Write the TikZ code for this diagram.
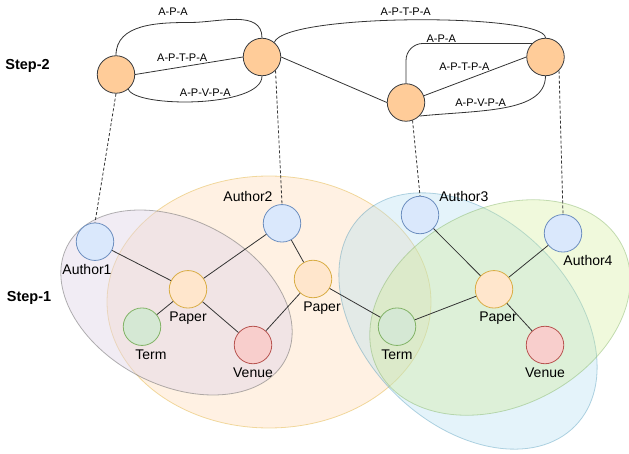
\documentclass[tikz,border=0pt]{standalone}
\usepackage{fontspec}
\setmainfont{Liberation Sans}
\usetikzlibrary{positioning}

\definecolor{mpfill}{HTML}{FFCC99}
\definecolor{mpline}{HTML}{36393D}
\definecolor{authfill}{HTML}{DAE8FC}
\definecolor{authline}{HTML}{6C8EBF}
\definecolor{papfill}{HTML}{FFE6CC}
\definecolor{papline}{HTML}{D9AD45}
\definecolor{termfill}{HTML}{D5E8D4}
\definecolor{termline}{HTML}{82B366}
\definecolor{venfill}{HTML}{F8CECC}
\definecolor{venline}{HTML}{B85450}
\definecolor{edge}{HTML}{333333}
\definecolor{orfill}{HTML}{FFE6CC}
\definecolor{orline}{HTML}{D79B00}
\definecolor{purfill}{HTML}{E1D5E7}
\definecolor{purline}{HTML}{666666}
\definecolor{blufill}{HTML}{B1DDF0}
\definecolor{bluline}{HTML}{10739E}
\definecolor{grefill}{HTML}{CDEB8B}
\definecolor{greline}{HTML}{82B366}

\begin{document}
\begin{tikzpicture}[x=1pt, y=1pt]
	\tikzset{n/.style={circle, draw, line width=0.8pt, minimum size=37.5pt, inner sep=0pt},
	au/.style={n, fill=authfill, draw=authline},
	pa/.style={n, fill=papfill, draw=papline},
	te/.style={n, fill=termfill, draw=termline},
	ve/.style={n, fill=venfill, draw=venline},
	mp/.style={n, fill=mpfill, draw=mpline},
	lbl/.style={inner sep=0pt, font=\fontsize{14}{16}\selectfont, text height=10pt, text depth=3pt},
	el/.style={inner sep=0pt, font=\fontsize{11}{13}\selectfont},
	st/.style={font=\bfseries\fontsize{14.5}{17}\selectfont},
	f/.style={draw=edge, line width=0.8pt},
	dl/.style={f, dash pattern=on 3pt off 2pt},
	grp/.style={line width=0.8pt}};

	\useasboundingbox (0,0) rectangle (629,453);

	\draw[grp, fill=orfill, fill opacity=0.55, draw=orline, draw opacity=0.35] (269,151) ellipse [x radius=162, y radius=126];
	\draw[grp, fill=purfill, fill opacity=0.45, draw=purline, draw opacity=0.5, rotate around={-27.3:(176.5,150.5)}] (176.5,150.5) ellipse [x radius=123, y radius=82.5];
	\draw[grp, fill=blufill, fill opacity=0.35, draw=bluline, draw opacity=0.3, rotate around={-44.4:(468,132)}] (468,132) ellipse [x radius=150, y radius=103];
	\draw[grp, fill=grefill, fill opacity=0.3, draw=greline, draw opacity=0.45, rotate around={26.7:(500,145.5)}] (500,145.5) ellipse [x radius=137, y radius=99];

	\node[st] (st2) at (27.5,387) {Step-2};
	\node[st] (st1) at (29,155) {Step-1};

	\node[mp] (s1) at (116,378.5) {};
	\node[mp] (s2) at (262,396) {};
	\node[mp] (s3) at (406,350.5) {};
	\node[mp] (s4) at (545.5,396) {};

	\node[au] (a1) at (95,211.3) {};
	\node[au] (a2) at (282,229.7) {};
	\node[pa] (p1) at (188,163.7) {};
	\node[te] (t1) at (142,126.3) {};
	\node[ve] (v1) at (253,108) {};
	\node[pa] (p2) at (313,174) {};
	\node[te] (t2) at (397,126.3) {};
	\node[au] (a3) at (420,238) {};
	\node[pa] (p3) at (494,163.7) {};
	\node[au] (a4) at (563,219.7) {};
	\node[ve] (v3) at (545,108) {};

	\node[lbl, below=3pt of a1, xshift=-8pt] (a1l) {Author1};
	\node[lbl, above=-1pt of a2, xshift=-34pt] (a2l) {Author2};
	\node[lbl, below=3pt of p1] (p1l) {Paper};
	\node[lbl, below=3pt of t1, xshift=9pt] (t1l) {Term};
	\node[lbl, below=3pt of v1] (v1l) {Venue};
	\node[lbl, below=3pt of p2, xshift=9pt] (p2l) {Paper};
	\node[lbl, below=3pt of t2] (t2l) {Term};
	\node[lbl, right=0pt of a3, yshift=17pt] (a3l) {Author3};
	\node[lbl, below=3pt of p3, xshift=4pt] (p3l) {Paper};
	\node[lbl, below=3pt of a4, xshift=25pt] (a4l) {Author4};
	\node[lbl, below=3pt of v3] (v3l) {Venue};

	\draw[f] (a1) -- (p1);
	\draw[f] (p1) -- (a2);
	\draw[f] (p1) -- (t1);
	\draw[f] (p1) -- (v1);
	\draw[f] (a2) -- (p2);
	\draw[f] (p2) -- (v1);
	\draw[f] (p2) -- (t2);
	\draw[f] (t2) -- (p3);
	\draw[f] (a3) -- (p3);
	\draw[f] (a4) -- (p3);
	\draw[f] (p3) -- (v3);

	\coordinate (c12) at (190,430.5);
	\draw[f] (s1.north) to[out=90, in=180] (c12) node[el, above=7pt, xshift=-17pt] (l1) {A-P-A} to[out=0, in=90] (s2.north);
	\draw[f] (s1.east) -- node[el, pos=0.68, above left=1pt] (l2) {A-P-T-P-A} (s2.west);
	\draw[f] (s1.-50) .. controls (135,345) and (262,345) .. node[el, pos=0.68, above left=0pt] (l3) {A-P-V-P-A} (s2.south);
	\draw[f] (s2.east) -- (s3.west);
	\draw[f] (s2.50) .. controls (285,440) and (545,440) .. node[el, pos=0.48, above=4pt] (l4) {A-P-T-P-A} (s4.north);
	\draw[f, rounded corners=17pt] (s3.north) |- node[el, pos=0.64, above=1pt] (l5) {A-P-A} (s4.north west);
	\draw[f] (s3) -- node[el, pos=0.644, above left=0pt] (l6) {A-P-T-P-A} (s4.west);
	\draw[f] (s3.-45) .. controls (480,343) and (545,340) .. node[el, pos=0.51, above left=0pt] (l7) {A-P-V-P-A} (s4.south);

	\draw[dl] (s1.south) -- (a1.north);
	\draw[dl] (s2.-45) -- (a2.north);
	\draw[dl] (s3.-70) -- (a3.north);
	\draw[dl] (s4.-45) -- (a4.north);
\end{tikzpicture}
\end{document}
